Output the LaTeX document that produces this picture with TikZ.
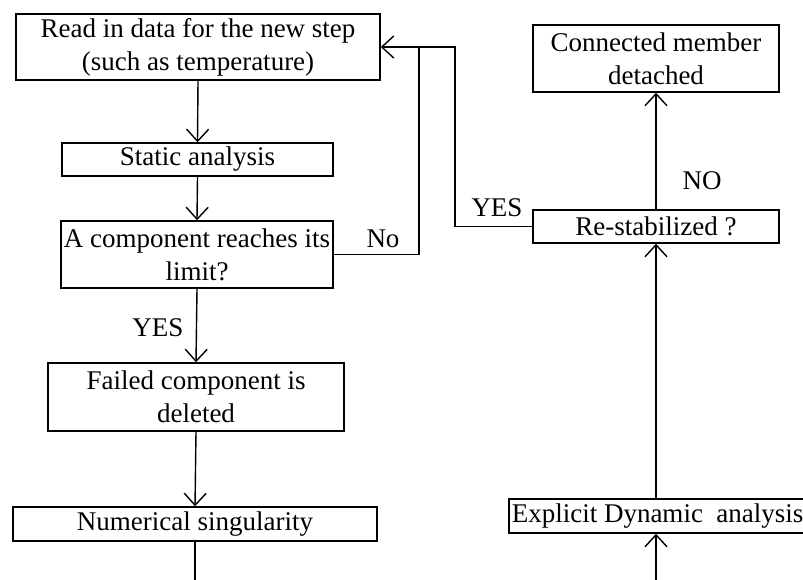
\documentclass[tikz,border=0pt]{standalone}
\usepackage{fontspec}
\setmainfont{Liberation Serif}
\usetikzlibrary{calc}
\usetikzlibrary{arrows.meta}

\begin{document}
\begin{tikzpicture}[x=1pt,y=-1pt,
  font=\fontsize{27}{33}\selectfont,
  box/.style={draw,line width=1.5pt,align=center,inner sep=1pt},
  flow/.style={line width=1.4pt,-{Straight Barb[length=12pt,width=22pt,line width=1.4pt]}},
  link/.style={line width=1.4pt}]
  % Boundary
  \path[use as bounding box] (0,0) rectangle (803,579);
  % Left column
  \node[box,minimum width=364pt,minimum height=66pt] (read) at (198,47) {Read in data for the new step\\(such as temperature)};
  \node[box,minimum width=271pt,minimum height=33pt] (static) at (197.5,159.5) {Static analysis};
  \node[box,minimum width=272pt,minimum height=67pt] (limit) at (197,254.5) {A component reaches its\\limit?};
  \node[box,minimum width=296pt,minimum height=68pt] (failed) at (196,397) {Failed component is\\deleted};
  \node[box,minimum width=364pt,minimum height=34pt] (singular) at (195,524) {Numerical singularity};
  % Right column
  \node[box,minimum width=246pt,minimum height=67pt] (detached) at (656,58.5) {Connected member\\detached};
  \node[box,minimum width=246pt,minimum height=33pt] (restab) at (656,226.5) {Re-stabilized ?};
  \node[box,anchor=west,minimum height=34pt,inner xsep=3pt] (explicit) at (508,516) {Explicit Dynamic~ analysis};
  % Labels
  \node (yesdown) at (158,328) {YES};
  \node (noback) at (383,239) {No};
  \node (yesback) at (497,208) {YES};
  \node (noup) at (702,181) {NO};
  % Free ends
  \coordinate (loop) at (419,47);
  \coordinate (join) at (455,47);
  \coordinate (leftend) at (195,590);
  \coordinate (rightend) at (656,590);
  % Main flow
  \draw[flow] (read.south) -- (static.north);
  \draw[flow] (static.south) -- (limit.north);
  \draw[flow] (limit.south) -- (failed.north);
  \draw[flow] (failed.south) -- (singular.north);
  \draw[link] (singular.south) -- (leftend);
  % Loops back to the next step
  \draw[flow] (limit.east) -| (loop) -- (read.east);
  \draw[link] (restab.west) -| (join) -- (loop);
  % Dynamic branch
  \draw[flow] (rightend) -- (explicit.south -| restab.south);
  \draw[flow] (explicit.north -| restab.north) -- (restab.south);
  \draw[flow] (restab.north) -- (detached.south);
\end{tikzpicture}
\end{document}
